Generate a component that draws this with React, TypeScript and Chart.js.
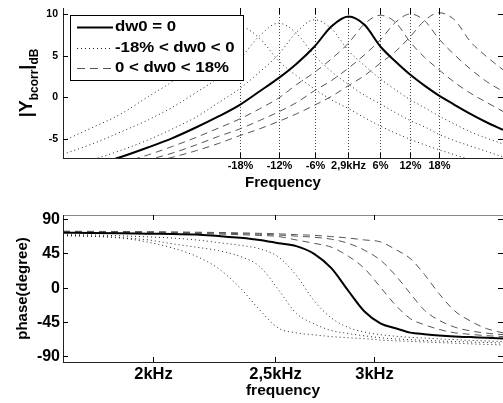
import React, { useEffect, useRef } from 'react';
import { Chart, registerables } from 'chart.js';

Chart.register(...registerables);

// Frequency samples (kHz), shared by both panels
const FREQ_KHZ = [1.698, 1.791, 1.885, 1.985, 2.074, 2.167, 2.256, 2.346, 2.431, 2.518, 2.601, 2.689, 2.773, 2.861, 2.946, 3.033, 3.118, 3.204, 3.288, 3.376, 3.473, 3.575, 3.682, 3.795];

// |Y_bcorr| in dB
const MAG_0 = [-9.1, -8.2, -7.2, -6.0, -4.9, -3.6, -2.3, -0.9, 0.7, 2.3, 4.0, 6.1, 8.5, 9.7, 8.7, 6.1, 4.3, 2.7, 1.4, 0.2, -0.9, -2.0, -3.0, -3.9];
const MAG_M18 = [-5.25, -3.65, -2.05, 0.1, 1.9, 4.1, 6.9, 8.5, 7.1, 4.4, 2.6, 1.0, -0.3, -1.35, -2.45, -3.45, -4.3, -5.05, -5.7, -6.3, -6.9, -7.5, -8.1, -8.6];
const MAG_M12 = [-6.85, -5.6, -4.2, -2.7, -1.2, 0.6, 2.35, 4.6, 7.35, 8.9, 7.7, 5.0, 3.1, 1.55, 0.25, -0.8, -1.85, -2.8, -3.55, -4.45, -5.2, -5.85, -6.5, -7.15];
const MAG_M6 = [-8.4, -7.5, -6.4, -5.1, -3.8, -2.35, -0.65, 1.05, 3.0, 5.15, 7.8, 9.3, 8.25, 5.6, 3.8, 2.2, 0.9, -0.3, -1.25, -2.25, -3.2, -4.15, -4.9, -5.6];
const MAG_P6 = [-9.5, -8.7, -7.9, -6.9, -5.9, -4.8, -3.7, -2.6, -1.4, -0.1, 1.5, 3.0, 4.6, 6.5, 8.8, 9.85, 9.0, 6.6, 4.8, 3.3, 1.8, 0.5, -0.6, -1.7];
const MAG_P12 = [-10.0, -9.1, -8.35, -7.5, -6.7, -5.7, -4.7, -3.8, -2.8, -1.75, -0.65, 0.8, 2.0, 3.5, 5.1, 6.9, 9.0, 10.0, 9.2, 7.0, 5.1, 3.4, 1.9, 0.7];
const MAG_P18 = [-10.4, -9.5, -8.65, -7.9, -7.2, -6.4, -5.55, -4.6, -3.8, -2.9, -2.0, -0.95, 0.1, 1.4, 2.6, 4.1, 5.5, 7.3, 9.2, 10.15, 9.3, 6.7, 4.9, 3.3];

// phase in degrees
const PH_0 = [72, 71.7, 71.3, 70.8, 70.2, 69.8, 67.6, 65.3, 62.5, 58.3, 54.4, 44, 25.4, -4.6, -31.6, -47, -53.5, -59.3, -61.3, -63, -64.3, -65.2, -66, -67];
const PH_M18 = [68, 67.2, 65.3, 59.5, 52, 41, 25, 0, -29, -53.5, -59.5, -62.3, -64.5, -66, -67.2, -69, -70, -70.8, -71.6, -72.4, -73.2, -74, -74.8, -75.5];
const PH_M12 = [68.5, 67.5, 65.5, 62.5, 57.5, 53, 48.5, 41, 28, -3, -34, -48, -56.5, -60.5, -63.5, -66, -67.5, -68.5, -69.5, -70.3, -71, -71.7, -72.3, -73];
const PH_M6 = [69.5, 69, 68, 66.5, 65, 62.5, 59, 55.5, 51, 40, 16, -18, -40, -52.5, -58.5, -62, -64, -65.5, -66.5, -67.5, -68.5, -69.5, -70.3, -71];
const PH_P6 = [73, 72.8, 72.5, 72.2, 71.8, 71.2, 70.3, 69.5, 68.5, 67, 62.5, 58, 53, 41, 25, 0.5, -23, -41, -49, -55, -59.5, -61.5, -63.3, -64.5];
const PH_P12 = [73.5, 73.3, 73.1, 72.8, 72.5, 72.0, 71.5, 70.8, 70, 69, 67.5, 66, 63.5, 58, 49, 36, 16, -8, -30, -43, -52, -57, -60, -62];
const PH_P18 = [74, 73.8, 73.6, 73.4, 73.1, 72.7, 72.3, 71.8, 71.2, 70.5, 69.5, 68.5, 67, 65, 62.5, 60, 50, 38, 17, -8, -30.5, -44, -54, -59.6];

// ticks
const TOP_X_TICKS = [2.346, 2.518, 2.689, 2.861, 3.033, 3.204, 3.376];
const TOP_X_LABELS = ['-18%', '-12%', '-6%', '2,9kHz', '6%', '12%', '18%'];
const TOP_Y_TICKS = [-5, 0, 5, 10];
const BOT_X_TICKS = [2, 2.5, 3];
const BOT_X_LABELS = ['2kHz', '2,5kHz', '3kHz'];
const BOT_Y_TICKS = [-90, -45, 0, 45, 90];
const LEGEND_LABELS = ['dw0 = 0', '-18% < dw0 < 0', '0 < dw0 < 18%'];

const FONT = '"Liberation Sans", Arial, sans-serif';

type Kind = 'solid' | 'dotted' | 'dashed';
const SERIES: { mag: number[]; ph: number[]; kind: Kind }[] = [
  { mag: MAG_0, ph: PH_0, kind: 'solid' },
  { mag: MAG_M6, ph: PH_M6, kind: 'dotted' },
  { mag: MAG_M12, ph: PH_M12, kind: 'dotted' },
  { mag: MAG_M18, ph: PH_M18, kind: 'dotted' },
  { mag: MAG_P6, ph: PH_P6, kind: 'dashed' },
  { mag: MAG_P12, ph: PH_P12, kind: 'dashed' },
  { mag: MAG_P18, ph: PH_P18, kind: 'dashed' },
];

function styleFor(kind: Kind) {
  if (kind === 'solid') return { borderColor: '#000', borderWidth: 2, borderDash: [] as number[] };
  if (kind === 'dotted') return { borderColor: '#222', borderWidth: 1, borderDash: [1, 3] };
  return { borderColor: '#555', borderWidth: 1, borderDash: [7, 5] };
}

function makeDatasets(key: 'mag' | 'ph') {
  return SERIES.map((s) => ({
    data: FREQ_KHZ.map((f, i) => ({ x: f, y: s[key][i] })),
    ...styleFor(s.kind),
    fill: false,
    pointRadius: 0,
    cubicInterpolationMode: 'monotone' as const,
  }));
}

function txt(ctx: CanvasRenderingContext2D, s: string, x: number, y: number, size: number,
  o: { align?: CanvasTextAlign; baseline?: CanvasTextBaseline; sx?: number; rot?: number } = {}) {
  ctx.save();
  ctx.translate(x, y);
  if (o.rot) ctx.rotate(o.rot);
  if (o.sx) ctx.scale(o.sx, 1);
  ctx.font = `bold ${size}px ${FONT}`;
  ctx.fillStyle = '#000';
  ctx.textAlign = o.align || 'left';
  ctx.textBaseline = o.baseline || 'middle';
  ctx.fillText(s, 0, 0);
  ctx.restore();
}

function line(ctx: CanvasRenderingContext2D, x1: number, y1: number, x2: number, y2: number, color = '#000', dash: number[] = []) {
  ctx.save();
  ctx.strokeStyle = color;
  ctx.lineWidth = 1;
  ctx.setLineDash(dash);
  ctx.beginPath();
  ctx.moveTo(x1, y1);
  ctx.lineTo(x2, y2);
  ctx.stroke();
  ctx.restore();
}

const TICK = 5;

const topPlugin = {
  id: 'topDecor',
  beforeDatasetsDraw(chart: any) {
    const { ctx, chartArea: a, scales } = chart;
    TOP_X_TICKS.forEach((v) => {
      const px = Math.round(scales.x.getPixelForValue(v)) + 0.5;
      line(ctx, px, a.top, px, a.bottom, '#444', [1, 2]);
    });
  },
  afterDatasetsDraw(chart: any) {
    const { ctx, chartArea: a, scales } = chart;
    const L = a.left + 0.5, B = a.bottom + 0.5;
    line(ctx, L, a.top, L, a.bottom + 1, '#222');
    line(ctx, a.left, B, a.right, B, '#222');
    TOP_Y_TICKS.forEach((v) => {
      const py = Math.round(scales.y.getPixelForValue(v)) + 0.5;
      line(ctx, a.left, py, a.left + TICK, py);
      line(ctx, a.right, py, a.right - TICK, py);
      txt(ctx, String(v), a.left - 5, py, 10.5, { align: 'right' });
    });
    TOP_X_TICKS.forEach((v, i) => {
      const px = Math.round(scales.x.getPixelForValue(v)) + 0.5;
      line(ctx, px, a.top, px, a.top + TICK + 1);
      line(ctx, px, a.bottom, px, a.bottom - TICK);
      txt(ctx, TOP_X_LABELS[i], px, a.bottom + 8, 11, { align: 'center' });
    });
    txt(ctx, 'Frequency', (a.left + a.right) / 2, a.bottom + 25, 15, { align: 'center' });

    // y axis title with subscripts, rotated
    const parts: [string, number, number][] = [['|Y', 18, 0], ['bcorr', 12, 6], ['|', 18, 0], ['dB', 12, 6]];
    let total = 0;
    parts.forEach(([s, sz]) => { ctx.font = `bold ${sz}px ${FONT}`; total += ctx.measureText(s).width; });
    const cy = (a.top + a.bottom) / 2;
    let pos = cy + total / 2;
    parts.forEach(([s, sz, off]) => {
      ctx.font = `bold ${sz}px ${FONT}`;
      const w = ctx.measureText(s).width;
      txt(ctx, s, 32 + off, pos, sz, { rot: -Math.PI / 2, baseline: 'alphabetic' });
      pos -= w;
    });

    // legend
    const bx = 70.5, by = 15.5, bw = 173, bh = 65;
    ctx.save();
    ctx.fillStyle = '#fff';
    ctx.fillRect(bx, by, bw, bh);
    ctx.strokeStyle = '#000';
    ctx.lineWidth = 1;
    ctx.strokeRect(bx, by, bw, bh);
    ctx.restore();
    const rows = [27, 48, 68];
    const kinds: Kind[] = ['solid', 'dotted', 'dashed'];
    kinds.forEach((k, i) => {
      const st = styleFor(k);
      ctx.save();
      ctx.strokeStyle = st.borderColor;
      ctx.lineWidth = st.borderWidth;
      ctx.setLineDash(k === 'dashed' ? [8, 5] : st.borderDash);
      ctx.beginPath();
      ctx.moveTo(77, rows[i] + 0.5);
      ctx.lineTo(113, rows[i] + 0.5);
      ctx.stroke();
      ctx.restore();
      txt(ctx, LEGEND_LABELS[i], 115, rows[i] + 0.5, 14, { sx: 1.2 });
    });
  },
};

const botPlugin = {
  id: 'botDecor',
  afterDatasetsDraw(chart: any) {
    const { ctx, chartArea: a, scales } = chart;
    const L = a.left + 0.5, B = a.bottom + 0.5, T = a.top + 0.5;
    line(ctx, a.left, T, a.right, T, '#888');
    line(ctx, L, a.top, L, a.bottom + 1, '#222');
    line(ctx, a.left, B, a.right, B, '#222');
    BOT_Y_TICKS.forEach((v) => {
      const py = Math.round(scales.y.getPixelForValue(v)) + 0.5;
      line(ctx, a.left, py, a.left + TICK, py);
      line(ctx, a.right, py, a.right - TICK, py);
      txt(ctx, String(v), a.left - 3, py, 16, { align: 'right' });
    });
    BOT_X_TICKS.forEach((v, i) => {
      const px = Math.round(scales.x.getPixelForValue(v)) + 0.5;
      line(ctx, px, a.top, px, a.top + TICK);
      line(ctx, px, a.bottom, px, a.bottom - TICK);
      txt(ctx, BOT_X_LABELS[i], px, a.bottom + 12, 16.5, { align: 'center' });
    });
    txt(ctx, 'frequency', (a.left + a.right) / 2, a.bottom + 29, 15.5, { align: 'center' });
    txt(ctx, 'phase(degree)', 27, (a.top + a.bottom) / 2, 15, { rot: -Math.PI / 2, align: 'center', baseline: 'alphabetic' });
  },
};

function baseOptions(pad: any, yMin: number, yMax: number) {
  return {
    responsive: false,
    animation: false as const,
    devicePixelRatio: 1,
    layout: { padding: pad },
    scales: {
      x: { type: 'logarithmic' as const, min: 1.698, max: 3.795, display: false },
      y: { type: 'linear' as const, min: yMin, max: yMax, display: false },
    },
    plugins: { legend: { display: false }, tooltip: { enabled: false } },
  };
}

export default function App() {
  const topRef = useRef<HTMLCanvasElement>(null);
  const botRef = useRef<HTMLCanvasElement>(null);

  useEffect(() => {
    const c1 = new Chart(topRef.current as HTMLCanvasElement, {
      type: 'line',
      data: { datasets: makeDatasets('mag') as any },
      options: baseOptions({ left: 63, top: 8, right: 0, bottom: 42 }, -7.29, 10.72) as any,
      plugins: [topPlugin],
    });
    const c2 = new Chart(botRef.current as HTMLCanvasElement, {
      type: 'line',
      data: { datasets: makeDatasets('ph') as any },
      options: baseOptions({ left: 63, top: 15, right: 0, bottom: 41 }, -97.9, 95.3) as any,
      plugins: [botPlugin],
    });
    return () => {
      c1.destroy();
      c2.destroy();
    };
  }, []);

  return (
    <div style={{ position: 'fixed', left: 0, top: 0, width: 503, height: 403, background: '#fff' }}>
      <canvas ref={topRef} width={503} height={200} style={{ position: 'absolute', left: 0, top: 0, width: 503, height: 200 }} />
      <canvas ref={botRef} width={503} height={203} style={{ position: 'absolute', left: 0, top: 200, width: 503, height: 203 }} />
    </div>
  );
}
